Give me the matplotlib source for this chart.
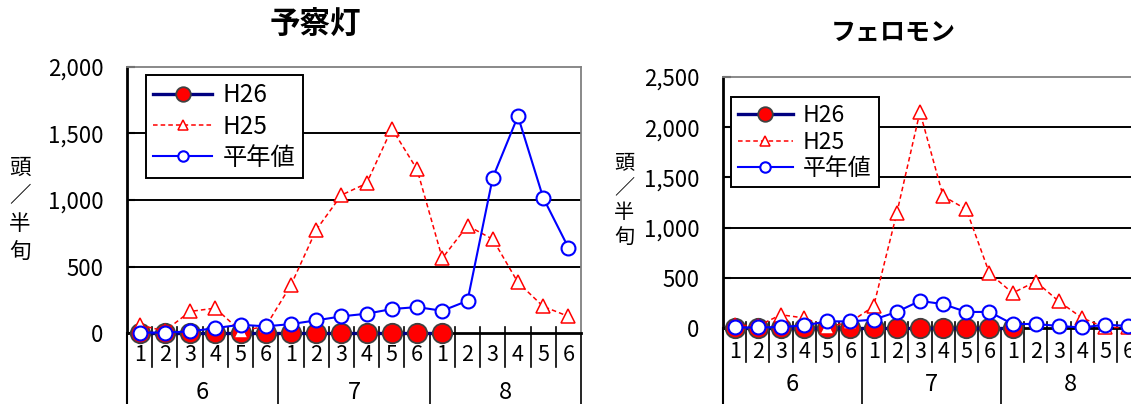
import matplotlib
matplotlib.use('Agg')
import matplotlib.pyplot as plt
from matplotlib.ticker import FuncFormatter

plt.rcParams['font.family'] = ['Noto Sans CJK JP', 'DejaVu Sans']

months = ['6', '7', '8']
periods = ['1', '2', '3', '4', '5', '6']

# 予察灯 (頭/半旬)
trap_h26 = [0, 0, 0, 0, 0, 0, 0, 0, 0, 0, 0, 0, 0]
trap_h25 = [60, 15, 162, 187, 15, 50, 360, 775, 1037, 1125, 1537, 1230,
            562, 807, 705, 380, 200, 125]
trap_avg = [3, 3, 12, 37, 62, 50, 67, 95, 125, 145, 180, 195,
            167, 242, 1167, 1630, 1017, 642]

# フェロモン (頭/半旬)
phero_h26 = [0, 0, 0, 0, 0, 0, 0, 0, 0, 0, 0, 0, 0]
phero_h25 = [30, 20, 132, 100, 10, 60, 215, 1142, 2152, 1314, 1182, 546,
             348, 463, 265, 100, 5, 5]
phero_avg = [5, 5, 10, 25, 66, 66, 83, 160, 270, 238, 160, 160,
             40, 40, 20, 5, 33, 20]

W, H = 1131, 404
fig = plt.figure(figsize=(W / 100, H / 100), dpi=100)


def px_axes(x0, x1, ytop, ybot):
    return fig.add_axes([x0 / W, (H - ybot) / H, (x1 - x0) / W, (ybot - ytop) / H])


def draw_panel(ax, h26, h25, avg, ymax, grid, leg_anchor, leg_font, leg_space,
               num_off, mon_off, ax_h):
    n = len(months) * len(periods)
    x = list(range(n))

    ax.plot(x[:len(h26)], h26, color='#000080', lw=2.4, marker='o', ms=14,
            mfc='red', mec='#404040', mew=1.3, label='H26', zorder=3, clip_on=False)
    ax.plot(x, h25, color='red', lw=1.1, ls=(0, (3, 2)), marker='^', ms=10,
            mfc='white', mec='red', mew=1.1, label='H25', zorder=4, clip_on=False)
    ax.plot(x, avg, color='blue', lw=1.5, marker='o', ms=10,
            mfc='white', mec='blue', mew=1.5, label='平年値', zorder=5, clip_on=False)

    ax.set_xlim(-0.5, n - 0.5)
    ax.set_ylim(0, ymax)
    ax.set_yticks(range(0, ymax + 1, 500))
    ax.yaxis.set_major_formatter(FuncFormatter(lambda v, p: f'{int(v):,}'))
    ax.tick_params(axis='y', direction='in', length=6, width=1.5, labelsize=16, pad=17)
    ax.set_xticks([])
    for g in grid:
        ax.axhline(g, color='black', lw=1.4, zorder=1)

    for s in ['top', 'right']:
        ax.spines[s].set_color('#808080')
        ax.spines[s].set_linewidth(1.3)
    ax.spines['left'].set_linewidth(2)
    ax.spines['bottom'].set_linewidth(2)

    # category axis: half-month numbers, month names and separators
    tr = ax.get_xaxis_transform()
    for i in x:
        ax.annotate(periods[i % 6], (i, 0), xycoords=tr, xytext=(0, -num_off),
                    textcoords='offset points', ha='center', va='center', fontsize=15.5)
        if i % 6 != 5:
            ax.plot([i + 0.5, i + 0.5], [6 / ax_h, -34 / ax_h], color='black',
                    lw=1.2, transform=tr, clip_on=False)
    for m, name in enumerate(months):
        ax.annotate(name, (m * 6 + 2.5, 0), xycoords=tr, xytext=(0, -mon_off),
                    textcoords='offset points', ha='center', va='center', fontsize=17)
    for b in range(len(months) + 1):
        ax.plot([b * 6 - 0.5, b * 6 - 0.5], [0, -0.4], color='black',
                lw=1.5 if b == 0 else 1.2, transform=tr, clip_on=False)

    leg = ax.legend(loc='upper left', bbox_to_anchor=leg_anchor, borderaxespad=0,
                    fontsize=leg_font, handlelength=2.4, labelspacing=leg_space,
                    markerscale=0.75, fancybox=False, framealpha=1, edgecolor='black',
                    borderpad=0.3, handletextpad=0.45)
    leg.get_frame().set_linewidth(1.4)
    leg.set_zorder(10)


ax1 = px_axes(127, 581, 67, 333)
draw_panel(ax1, trap_h26, trap_h25, trap_avg, 2000, [500, 1000, 1500],
           (0.042, 0.97), 17.5, 0.22, 16, 42.5, 266)

ax2 = px_axes(723, 1140, 77, 328)
draw_panel(ax2, phero_h26, phero_h25, phero_avg, 2500, [500, 1000, 1500, 2000],
           (0.019, 0.92), 16.5, 0.16, 17, 41, 251)

fig.text(315 / W, 1 - 25 / H, '予察灯', ha='center', va='center', fontsize=22, fontweight='bold')
fig.text(893 / W, 1 - 33 / H, 'フェロモン', ha='center', va='center', fontsize=18, fontweight='bold')
fig.text(20 / W, 1 - 210 / H, '頭\n／\n半\n旬', ha='center', va='center', fontsize=15.5, linespacing=1.35)
fig.text(624 / W, 1 - 200 / H, '頭\n／\n半\n旬', ha='center', va='center', fontsize=14.5, linespacing=1.25)

fig.savefig('out.png', dpi=100)
